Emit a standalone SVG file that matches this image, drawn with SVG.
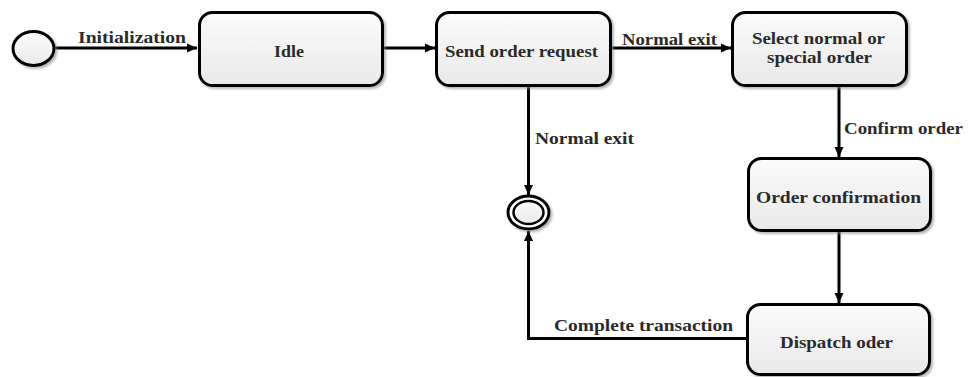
<svg xmlns="http://www.w3.org/2000/svg" width="968" height="377" viewBox="0 0 968 377">
  <style>
    .box { fill: url(#g); stroke: #000; stroke-width: 3; filter: url(#sh); }
    .lbl { font-family: "Liberation Serif", "Times New Roman", serif; font-weight: bold; font-size: 16px; fill: #2a2a2a; }
    .mid { text-anchor: middle; }
    .edge { fill: none; stroke: #000; stroke-width: 3; }
  </style>
  <defs>
    <linearGradient id="g" x1="0" y1="0" x2="0" y2="1">
      <stop offset="0" stop-color="#fbfbfb"/>
      <stop offset="1" stop-color="#e9e9e9"/>
    </linearGradient>
    <filter id="sh" x="-10%" y="-10%" width="125%" height="130%">
      <feDropShadow dx="2" dy="2" stdDeviation="1.2" flood-color="#888" flood-opacity="0.6"/>
    </filter>
    <marker id="ah" viewBox="0 0 10 10" refX="10" refY="5" markerWidth="10" markerHeight="10" markerUnits="userSpaceOnUse" orient="auto">
      <path d="M0,0.5 L10,5 L0,9.5 Z" fill="#000"/>
    </marker>
  </defs>

  <g id="connectors">
    <line class="edge" x1="55" y1="48" x2="197" y2="48" marker-end="url(#ah)"/>
    <line class="edge" x1="384" y1="48" x2="435" y2="48" marker-end="url(#ah)"/>
    <line class="edge" x1="612" y1="48" x2="731" y2="48" marker-end="url(#ah)"/>
    <line class="edge" x1="528.5" y1="87" x2="528.5" y2="195" marker-end="url(#ah)"/>
    <line class="edge" x1="839" y1="87" x2="839" y2="157" marker-end="url(#ah)"/>
    <line class="edge" x1="839" y1="232" x2="839" y2="303" marker-end="url(#ah)"/>
    <polyline class="edge" points="746,338.5 528.5,338.5 528.5,231" marker-end="url(#ah)"/>
    <text class="lbl" x="78" y="43" textLength="108" lengthAdjust="spacingAndGlyphs">Initialization</text>
    <text class="lbl" x="622" y="45" textLength="95" lengthAdjust="spacingAndGlyphs">Normal exit</text>
    <text class="lbl" x="535" y="144" textLength="99" lengthAdjust="spacingAndGlyphs">Normal exit</text>
    <text class="lbl" x="844" y="134" textLength="119" lengthAdjust="spacingAndGlyphs">Confirm order</text>
    <text class="lbl" x="554" y="331" textLength="179" lengthAdjust="spacingAndGlyphs">Complete transaction</text>
  </g>

  <g id="start">
    <ellipse cx="33.5" cy="48.5" rx="20.5" ry="17" fill="url(#g)" stroke="#000" stroke-width="3" filter="url(#sh)"/>
  </g>

  <g id="idle">
    <rect class="box" x="199.5" y="12.5" width="183" height="73" rx="13"/>
    <text class="lbl mid" x="289" y="57" textLength="30" lengthAdjust="spacingAndGlyphs">Idle</text>
  </g>

  <g id="send">
    <rect class="box" x="436.5" y="12.5" width="174" height="73" rx="13"/>
    <text class="lbl mid" x="521.5" y="57" textLength="153" lengthAdjust="spacingAndGlyphs">Send order request</text>
  </g>

  <g id="select">
    <rect class="box" x="732.5" y="12.5" width="174" height="73" rx="13"/>
    <text class="lbl mid" x="818.5" y="44" textLength="133" lengthAdjust="spacingAndGlyphs">Select normal or</text>
    <text class="lbl mid" x="819.5" y="63" textLength="105" lengthAdjust="spacingAndGlyphs">special order</text>
  </g>

  <g id="confirmation">
    <rect class="box" x="748.5" y="158.5" width="182" height="72" rx="13"/>
    <text class="lbl mid" x="838.5" y="203" textLength="165" lengthAdjust="spacingAndGlyphs">Order confirmation</text>
  </g>

  <g id="dispatch">
    <rect class="box" x="747.5" y="304.5" width="182" height="70" rx="13"/>
    <text class="lbl mid" x="836.5" y="348" textLength="113" lengthAdjust="spacingAndGlyphs">Dispatch oder</text>
  </g>

  <g id="final">
    <ellipse cx="528.5" cy="212.5" rx="20.5" ry="16.5" fill="#fff" stroke="#000" stroke-width="3" filter="url(#sh)"/>
    <ellipse cx="528.5" cy="212.5" rx="15" ry="11.5" fill="url(#g)" stroke="#000" stroke-width="2.5"/>
  </g>
</svg>
